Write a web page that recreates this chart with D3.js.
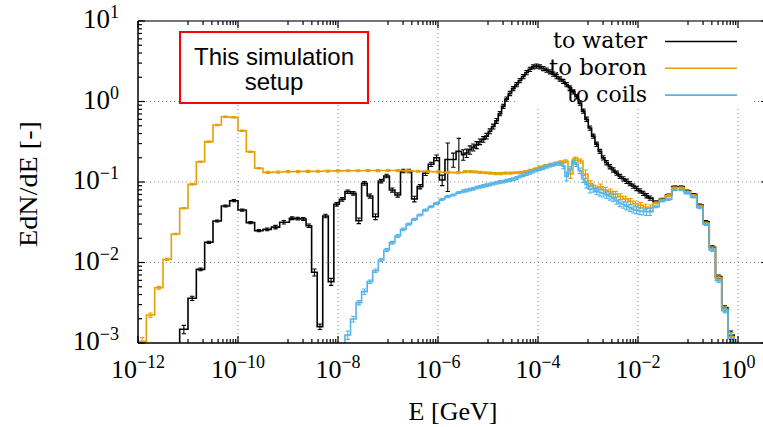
<!DOCTYPE html>
<html><head><meta charset="utf-8">
<script src="https://cdn.jsdelivr.net/npm/d3@7/dist/d3.min.js"></script>
<style>body{margin:0;background:#fff}svg{display:block}</style>
</head><body>
<svg id="c" width="763" height="427"></svg>
<script>
// ---------------- DATA ----------------
// series
const seriesNames  = ["to water", "to boron", "to coils"];
const seriesColors = ["#000000", "#E69F00", "#56B4E9"];

// axis tick labels (exponents of 10)
const xTickExps = [-12, -10, -8, -6, -4, -2, 0];
const yTickExps = [-3, -2, -1, 0, 1];

// Histograms: segments of log-spaced bins.
// Segment start = log10(E/GeV) of first lower edge, binsPerDecade, values = log10(EdN/dE), errors in %.
const waterStarts = [-11.1667, -8.972, -5.528, -1.7];
const waterPerDec = [6, 9, 15, 8];
const waterA = [-2.83, -2.445, -2.085, -1.749, -1.484, -1.298, -1.232, -1.348, -1.505, -1.605, -1.588, -1.56, -1.50];
const waterAErr = [12, 6, 4, 3, 3, 3, 3, 3, 3, 3, 4, 5, 5];
const waterB = [-1.45, -1.455, -1.46, -1.543, -2.122, -2.797, -1.422, -2.238, -1.277, -1.215, -1.12, -1.141, -1.481, -1.016, -1.174, -1.431, -0.988, -0.925, -1.099, -1.161, -0.863, -0.863, -1.211, -1.058, -0.892, -0.780, -0.698, -0.975, -0.72, -0.72, -0.62];
const waterBErr = [4, 4, 4, 5, 10, 8, 5, 10, 5, 5, 5, 5, 8, 5, 6, 8, 5, 5, 6, 6, 5, 5, 8, 6, 6, 6, 8, 15, 60, 20, 45];
const waterC = [-0.66, -0.64, -0.60, -0.57, -0.54, -0.50, -0.47, -0.43, -0.37, -0.31, -0.24, -0.15, -0.06, 0.03, 0.10, 0.16, 0.21, 0.26, 0.31, 0.36, 0.40, 0.43, 0.44, 0.43, 0.41, 0.39, 0.37, 0.34, 0.31, 0.28, 0.25, 0.21, 0.17, 0.12, 0.06, -0.02, -0.12, -0.22, -0.33, -0.43, -0.53, -0.62, -0.70, -0.76, -0.81, -0.85, -0.89, -0.93, -0.96, -0.99, -1.02, -1.05, -1.08, -1.11, -1.14, -1.17, -1.20];
const waterCErr = [15, 12, 12, 10, 10, 8, 8, 8, 7, 7, 7, 6, 6, 6, 6, 6, 6, 6, 6, 6, 6, 6, 6, 6, 6, 6, 6, 6, 6, 6, 6, 6, 6, 6, 6, 6, 6, 6, 6, 6, 6, 6, 6, 6, 6, 6, 6, 6, 6, 6, 6, 6, 6, 6, 6, 6, 6];
const waterD = [-1.245, -1.215, -1.161, -1.058, -1.058, -1.108, -1.153, -1.286, -1.493, -1.811, -2.176, -2.562, -2.90];
const waterDErr = [3, 3, 3, 2, 2, 2, 2, 3, 3, 4, 5, 6, 12];

const boronStarts = [-12, -9.5, -5.5, -1.7];
const boronPerDec = [6, 5, 10, 8];
const boronA = [-2.98, -2.652, -2.313, -1.96, -1.646, -1.327, -1.029, -0.748, -0.499, -0.292, -0.189, -0.197, -0.363, -0.624, -0.830];
const boronAErr = [12, 6, 4, 3, 2, 2, 2, 2, 2, 2, 2, 2, 2, 2, 2];
const boronB = [-0.880, -0.876, -0.872, -0.870, -0.868, -0.866, -0.864, -0.862, -0.860, -0.860, -0.858, -0.858, -0.857, -0.858, -0.862, -0.866, -0.870, -0.875, -0.880, -0.884];
const boronBErr = [3, 3, 3, 3, 3, 3, 3, 3, 3, 3, 3, 3, 3, 3, 3, 3, 3, 3, 3, 3];
const boronC = [-0.87, -0.87, -0.875, -0.88, -0.885, -0.89, -0.895, -0.895, -0.89, -0.89, -0.885, -0.88, -0.87, -0.855, -0.835, -0.815, -0.80, -0.785, -0.77, -0.755, -0.74, -0.90, -0.71, -0.74, -0.90, -1.02, -1.08, -1.06, -1.10, -1.12, -1.15, -1.18, -1.21, -1.24, -1.27, -1.29, -1.31, -1.32];
const boronCErr = [3, 3, 3, 3, 3, 3, 3, 3, 3, 3, 3, 3, 3, 3, 3, 3, 4, 4, 4, 4, 4, 12, 5, 6, 12, 8, 8, 8, 8, 8, 8, 8, 8, 8, 8, 8, 8, 8];
const boronD = [-1.26, -1.225, -1.17, -1.07, -1.07, -1.12, -1.165, -1.30, -1.51, -1.825, -2.19, -2.58, -2.92];
const boronDErr = [3, 3, 3, 2, 2, 2, 2, 3, 3, 4, 5, 6, 12];

const coilsStarts = [-7.861, -5.528, -1.7];
const coilsPerDec = [9, 15, 8];
const coilsA = [-2.90, -2.702, -2.499, -2.362, -2.238, -2.102, -1.969, -1.845, -1.754, -1.671, -1.588, -1.522, -1.463, -1.41, -1.348, -1.307, -1.265, -1.215, -1.182, -1.161, -1.13];
const coilsAErr = [12, 8, 6, 8, 5, 5, 4, 4, 4, 4, 4, 3, 3, 3, 3, 3, 3, 3, 3, 3, 3];
const coilsB = [-1.115, -1.105, -1.095, -1.085, -1.07, -1.06, -1.05, -1.04, -1.03, -1.02, -1.01, -1.00, -0.995, -0.985, -0.975, -0.965, -0.95, -0.93, -0.915, -0.90, -0.885, -0.87, -0.855, -0.84, -0.825, -0.81, -0.795, -0.785, -0.775, -0.77, -0.80, -0.93, -0.84, -0.75, -0.78, -0.86, -0.96, -1.03, -1.09, -1.08, -1.11, -1.13, -1.14, -1.16, -1.18, -1.20, -1.23, -1.26, -1.28, -1.30, -1.32, -1.34, -1.35, -1.36, -1.365, -1.37, -1.37];
const coilsBErr = [4, 4, 4, 4, 4, 4, 4, 4, 4, 4, 4, 4, 4, 4, 4, 4, 4, 4, 4, 4, 4, 4, 4, 4, 4, 4, 4, 4, 4, 5, 8, 12, 8, 5, 6, 8, 10, 10, 10, 10, 10, 10, 10, 10, 10, 10, 10, 10, 10, 10, 10, 10, 10, 10, 10, 10, 10];
const coilsD = [-1.307, -1.236, -1.215, -1.10, -1.10, -1.141, -1.19, -1.319, -1.526, -1.845, -2.226, -2.599, -2.942];
const coilsDErr = [3, 3, 3, 2, 2, 2, 2, 3, 3, 4, 5, 6, 12];

// ---------------- CHART ----------------
const W = 763, H = 427;
const M = {left: 138, right: 768, top: 21, bottom: 343};
const svg = d3.select("#c");
const x = d3.scaleLog().domain([1e-12, Math.pow(10, 0.6)]).range([M.left, M.right]);
const y = d3.scaleLog().domain([1e-3, 10]).range([M.bottom, M.top]);

const serif = "'Liberation Serif', 'Times New Roman', serif";

function buildBins(starts, perDec, vals, errs) {
  const bins = [];
  starts.forEach((s, i) => {
    vals[i].forEach((v, j) => {
      bins.push({l0: s + j / perDec[i], l1: s + (j + 1) / perDec[i], v: v, e: errs[i][j]});
    });
  });
  return bins;
}
const series = [
  buildBins(waterStarts, waterPerDec, [waterA, waterB, waterC, waterD], [waterAErr, waterBErr, waterCErr, waterDErr]),
  buildBins(boronStarts, boronPerDec, [boronA, boronB, boronC, boronD], [boronAErr, boronBErr, boronCErr, boronDErr]),
  buildBins(coilsStarts, coilsPerDec, [coilsA, coilsB, coilsD], [coilsAErr, coilsBErr, coilsDErr])
];

// clip
svg.append("defs").append("clipPath").attr("id", "plotclip")
  .append("rect").attr("x", M.left).attr("y", M.top)
  .attr("width", M.right - M.left).attr("height", M.bottom - M.top);

// grid
const grid = svg.append("g").attr("stroke", "#8a8a8a").attr("stroke-width", 1)
  .attr("stroke-dasharray", "1,3").attr("fill", "none");
xTickExps.forEach(e => {
  if (e === -12) return;
  grid.append("line").attr("x1", x(Math.pow(10, e))).attr("x2", x(Math.pow(10, e)))
    .attr("y1", M.top).attr("y2", M.bottom);
});
[-2, -1, 0].forEach(e => {
  grid.append("line").attr("x1", M.left).attr("x2", M.right)
    .attr("y1", y(Math.pow(10, e))).attr("y2", y(Math.pow(10, e)));
});

// opaque key background and label box
svg.append("rect").attr("x", 518).attr("y", 23).attr("width", 234).attr("height", 86).attr("fill", "#fff");
svg.append("rect").attr("x", 180).attr("y", 32).attr("width", 188).attr("height", 71)
  .attr("fill", "#fff").attr("stroke", "#ff0000").attr("stroke-width", 2);
svg.append("text").attr("x", 274).attr("y", 65).attr("text-anchor", "middle")
  .attr("font-family", "'Liberation Sans', Arial, sans-serif").attr("font-size", 24).text("This simulation");
svg.append("text").attr("x", 274).attr("y", 90).attr("text-anchor", "middle")
  .attr("font-family", "'Liberation Sans', Arial, sans-serif").attr("font-size", 24).text("setup");

// data
const plot = svg.append("g").attr("clip-path", "url(#plotclip)");
series.forEach((bins, si) => {
  const col = seriesColors[si];
  const X = l => x(Math.pow(10, l));
  const Y = v => y(Math.pow(10, v));
  let d = `M${X(bins[0].l0)},${M.bottom + 6}V${Y(bins[0].v)}H${X(bins[0].l1)}`;
  for (let i = 1; i < bins.length; i++) {
    d += `H${X(bins[i].l0)}V${Y(bins[i].v)}H${X(bins[i].l1)}`;
  }
  d += `V${M.bottom + 6}`;
  const g = plot.append("g");
  g.append("path").attr("d", d).attr("fill", "none").attr("stroke", col)
    .attr("stroke-width", 1.6).attr("stroke-linejoin", "miter");
  const eb = g.append("g").attr("stroke", col).attr("stroke-width", 1.1);
  bins.forEach(b => {
    const cx = X((b.l0 + b.l1) / 2);
    const val = Math.pow(10, b.v);
    const lo = Math.max(val * (1 - b.e / 100), 1e-5);
    const hi = val * (1 + b.e / 100);
    const y0 = y(lo), y1 = y(hi);
    eb.append("path").attr("d", `M${cx},${y0}V${y1}M${cx - 2.2},${y0}h4.4M${cx - 2.2},${y1}h4.4`);
  });
});

// axes frame
const ax = svg.append("g").attr("stroke", "#000").attr("fill", "none");
ax.append("line").attr("x1", M.left).attr("x2", W).attr("y1", M.bottom).attr("y2", M.bottom).attr("stroke-width", 1.5);
ax.append("line").attr("x1", M.left).attr("x2", W).attr("y1", M.top).attr("y2", M.top).attr("stroke-width", 1.5).attr("stroke", "#444");
ax.append("line").attr("x1", M.left).attr("x2", M.left).attr("y1", M.top).attr("y2", M.bottom).attr("stroke-width", 1.5);
ax.append("line").attr("x1", M.right).attr("x2", M.right).attr("y1", M.top).attr("y2", M.bottom).attr("stroke-width", 1.5);

// ticks
const tk = svg.append("g").attr("stroke", "#000").attr("stroke-width", 1.2);
const xMinor = [];
for (let e = -11; e <= -1; e += 2) for (let k = 1; k <= 9; k++) xMinor.push(k * Math.pow(10, e));
xMinor.forEach(v => {
  const px = x(v);
  tk.append("line").attr("x1", px).attr("x2", px).attr("y1", M.bottom).attr("y2", M.bottom - 4);
  tk.append("line").attr("x1", px).attr("x2", px).attr("y1", M.top).attr("y2", M.top + 4);
});
xTickExps.forEach(e => {
  const px = x(Math.pow(10, e));
  tk.append("line").attr("x1", px).attr("x2", px).attr("y1", M.bottom).attr("y2", M.bottom - 7);
  tk.append("line").attr("x1", px).attr("x2", px).attr("y1", M.top).attr("y2", M.top + 7);
});
const yMinor = [];
for (let e = -3; e < 1; e++) for (let k = 2; k <= 9; k++) yMinor.push(k * Math.pow(10, e));
yMinor.forEach(v => {
  const py = y(v);
  tk.append("line").attr("x1", M.left).attr("x2", M.left + 4).attr("y1", py).attr("y2", py);
  tk.append("line").attr("x1", M.right).attr("x2", M.right - 4).attr("y1", py).attr("y2", py);
});
yTickExps.forEach(e => {
  const py = y(Math.pow(10, e));
  tk.append("line").attr("x1", M.left).attr("x2", M.left + 7).attr("y1", py).attr("y2", py);
  tk.append("line").attr("x1", M.right).attr("x2", M.right - 7).attr("y1", py).attr("y2", py);
});

// tick labels
function expLabel(sel, e) {
  sel.append("tspan").text("10");
  sel.append("tspan").attr("font-size", 18).attr("dy", -10).text(e < 0 ? "\u2212" + (-e) : String(e));
}
xTickExps.forEach(e => {
  const t = svg.append("text").attr("x", x(Math.pow(10, e))).attr("y", 378)
    .attr("text-anchor", "middle").attr("font-family", serif).attr("font-size", 26);
  expLabel(t, e);
});
yTickExps.forEach(e => {
  const t = svg.append("text").attr("x", 119).attr("y", y(Math.pow(10, e)) + 7)
    .attr("text-anchor", "end").attr("font-family", serif).attr("font-size", 27);
  expLabel(t, e);
});

// axis titles
svg.append("text").attr("x", (M.left + M.right) / 2).attr("y", 420).attr("text-anchor", "middle")
  .attr("font-family", serif).attr("font-size", 26).text("E [GeV]");
svg.append("text").attr("transform", "translate(37,184) rotate(-90)").attr("text-anchor", "middle")
  .attr("font-family", serif).attr("font-size", 26)
  .attr("textLength", 126).attr("lengthAdjust", "spacingAndGlyphs").text("EdN/dE [-]");

// legend
const legendWidths = [94, 98, 80];
seriesNames.forEach((n, i) => {
  const yy = 48 + i * 26.8;
  svg.append("text").attr("x", 647).attr("y", yy).attr("text-anchor", "end")
    .attr("font-family", "'DejaVu Serif', serif").attr("font-size", 21.5)
    .attr("textLength", legendWidths[i]).attr("lengthAdjust", "spacingAndGlyphs").text(n);
  svg.append("line").attr("x1", 665).attr("x2", 737).attr("y1", yy - 6.5).attr("y2", yy - 6.5)
    .attr("stroke", seriesColors[i]).attr("stroke-width", 1.6);
});
</script>
</body></html>
